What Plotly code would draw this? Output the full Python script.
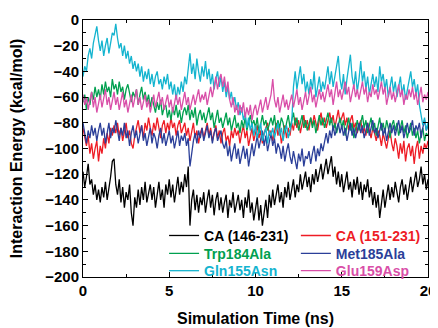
import plotly.graph_objects as go

time_ns = [round(i * 0.1, 1) for i in range(201)]

ca_146_231 = [
    -118, -130, -122, -112, -128, -124, -136, -128, -140, -132,
    -142, -130, -138, -126, -140, -132, -122, -110, -108, -128,
    -136, -124, -142, -130, -146, -134, -140, -128, -150, -160,
    -138, -146, -132, -144, -130, -140, -126, -142, -134, -128,
    -140, -130, -146, -134, -126, -140, -132, -146, -128, -136,
    -124, -138, -128, -142, -130, -122, -136, -126, -134, -120,
    -130, -114, -160, -140, -132, -148, -136, -150, -138, -144,
    -134, -150, -140, -132, -146, -136, -152, -140, -134, -148,
    -138, -150, -142, -136, -154, -140, -146, -134, -150, -142,
    -136, -148, -140, -154, -138, -146, -132, -150, -142, -156,
    -146, -138, -156, -144, -160, -148, -140, -154, -136, -146,
    -132, -144, -136, -128, -142, -134, -146, -130, -138, -126,
    -140, -130, -124, -138, -128, -134, -120, -132, -126, -118,
    -130, -122, -134, -120, -128, -116, -126, -120, -112, -124,
    -116, -108, -120, -112, -106, -122, -114, -128, -118, -130,
    -120, -134, -124, -118, -132, -126, -138, -124, -132, -122,
    -136, -126, -140, -128, -134, -124, -138, -130, -144, -134,
    -146, -136, -154, -140, -132, -146, -136, -128, -140, -130,
    -138, -126, -134, -142, -130, -124, -136, -128, -140, -132,
    -122, -134, -126, -118, -130, -124, -114, -128, -120, -132,
    -124]

ca_151_231 = [
    -84, -92, -98, -90, -104, -96, -108, -100, -94, -110,
    -98, -104, -92, -100, -88, -96, -84, -90, -82, -88,
    -80, -90, -84, -94, -86, -80, -92, -86, -96, -100,
    -90, -84, -78, -88, -82, -92, -80, -86, -76, -84,
    -90, -80, -86, -76, -84, -92, -82, -78, -88, -80,
    -86, -76, -84, -80, -90, -82, -78, -88, -84, -80,
    -90, -84, -94, -86, -80, -92, -86, -96, -88, -84,
    -92, -86, -80, -90, -84, -94, -88, -82, -92, -86,
    -96, -88, -84, -94, -90, -98, -86, -92, -84, -90,
    -86, -96, -88, -82, -92, -86, -98, -90, -84, -94,
    -88, -82, -92, -86, -96, -88, -84, -80, -90, -86,
    -94, -86, -80, -90, -84, -96, -88, -82, -92, -84,
    -90, -80, -86, -76, -84, -78, -88, -80, -74, -84,
    -78, -86, -76, -82, -74, -80, -86, -78, -72, -82,
    -76, -84, -78, -72, -80, -74, -84, -78, -70, -80,
    -76, -72, -82, -76, -86, -78, -74, -84, -80, -88,
    -82, -78, -88, -84, -90, -80, -86, -92, -84, -88,
    -94, -86, -90, -98, -88, -94, -100, -92, -86, -96,
    -102, -92, -98, -108, -96, -104, -94, -110, -100, -96,
    -106, -98, -112, -100, -94, -108, -98, -104, -96, -100,
    -94]

trp184ala = [
    -64, -58, -70, -60, -66, -56, -62, -52, -60, -54,
    -62, -50, -58, -48, -56, -52, -60, -46, -54, -50,
    -58, -48, -56, -52, -62, -54, -50, -58, -64, -56,
    -60, -54, -66, -58, -52, -62, -56, -64, -58, -68,
    -60, -66, -72, -64, -70, -62, -74, -68, -66, -76,
    -70, -78, -68, -74, -66, -76, -70, -80, -72, -68,
    -74, -66, -78, -70, -76, -68, -82, -74, -70, -78,
    -72, -80, -74, -68, -78, -72, -84, -76, -70, -80,
    -76, -84, -78, -72, -82, -76, -86, -80, -74, -84,
    -80, -88, -78, -84, -76, -86, -80, -74, -82, -78,
    -84, -76, -88, -80, -74, -82, -78, -86, -80, -76,
    -82, -74, -86, -78, -84, -76, -80, -88, -80, -74,
    -84, -78, -72, -82, -76, -86, -80, -74, -84, -78,
    -86, -80, -76, -84, -78, -88, -80, -74, -82, -76,
    -84, -78, -72, -82, -76, -86, -80, -88, -82, -76,
    -84, -78, -90, -82, -76, -86, -80, -92, -84, -78,
    -86, -80, -74, -84, -78, -88, -82, -76, -86, -80,
    -90, -82, -76, -86, -80, -88, -78, -84, -92, -82,
    -78, -86, -80, -90, -84, -78, -88, -82, -92, -86,
    -80, -90, -84, -92, -86, -96, -88, -84, -94, -88,
    -90]

met185ala = [
    -80, -88, -96, -86, -92, -82, -90, -84, -94, -86,
    -80, -90, -84, -96, -86, -80, -92, -84, -88, -78,
    -86, -94, -84, -90, -80, -92, -86, -98, -88, -82,
    -92, -86, -96, -88, -82, -94, -88, -98, -90, -84,
    -96, -88, -92, -100, -90, -84, -96, -88, -98, -92,
    -86, -96, -90, -100, -92, -86, -98, -90, -94, -88,
    -98, -92, -114, -102, -94, -88, -96, -86, -92, -84,
    -94, -88, -82, -92, -86, -96, -88, -84, -94, -90,
    -86, -96, -100, -94, -106, -98, -110, -102, -96, -108,
    -100, -112, -104, -98, -108, -100, -114, -104, -96, -106,
    -98, -90, -100, -92, -86, -98, -90, -102, -94, -88,
    -98, -92, -104, -96, -100, -108, -98, -110, -102, -96,
    -106, -112, -102, -108, -116, -104, -110, -100, -114, -106,
    -108, -102, -112, -104, -98, -110, -100, -106, -96, -102,
    -94, -88, -96, -86, -92, -82, -90, -84, -80, -88,
    -82, -90, -84, -94, -86, -80, -90, -84, -92, -86,
    -80, -88, -82, -92, -86, -80, -90, -84, -78, -88,
    -84, -92, -86, -80, -90, -84, -94, -86, -80, -88,
    -82, -90, -84, -78, -88, -82, -92, -86, -80, -88,
    -84, -78, -90, -82, -86, -80, -92, -84, -78, -86,
    -82]

gln155asn = [
    -44, -36, -40, -28, -22, -30, -18, -12, -5, -16,
    -24, -16, -28, -20, -14, -26, -18, -10, -12, -3,
    -14, -22, -18, -28, -20, -30, -24, -34, -28, -38,
    -32, -40, -34, -44, -36, -48, -40, -46, -38, -50,
    -42, -52, -44, -40, -50, -46, -54, -44, -50, -42,
    -54, -48, -58, -50, -62, -52, -58, -48, -56, -44,
    -50, -36, -26, -42, -34, -46, -30, -40, -48, -36,
    -44, -32, -46, -38, -50, -42, -54, -46, -40, -52,
    -44, -56, -48, -60, -52, -62, -56, -66, -60, -70,
    -64, -74, -68, -78, -72, -84, -76, -86, -80, -90,
    -82, -92, -86, -80, -94, -88, -84, -96, -86, -90,
    -84, -92, -86, -80, -90, -84, -94, -86, -82, -92,
    -86, -80, -52, -40, -54, -46, -36, -50, -42, -56,
    -48, -58, -46, -54, -40, -60, -50, -44, -56, -48,
    -54, -44, -36, -50, -40, -52, -44, -34, -28, -46,
    -54, -42, -58, -46, -36, -27, -44, -52, -40, -56,
    -46, -32, -48, -40, -54, -44, -58, -48, -42, -52,
    -44, -56, -36, -48, -42, -54, -46, -60, -50, -44,
    -56, -48, -60, -52, -44, -58, -50, -62, -54, -46,
    -40, -52, -46, -58, -50, -66, -74, -82, -76, -86,
    -80]

glu159asp = [
    -58, -66, -60, -70, -62, -56, -68, -60, -72, -64,
    -58, -68, -62, -54, -66, -60, -70, -62, -56, -66,
    -60, -70, -64, -56, -68, -62, -72, -64, -58, -68,
    -62, -54, -66, -60, -70, -64, -58, -68, -62, -72,
    -64, -58, -68, -62, -56, -66, -60, -70, -64, -58,
    -68, -62, -72, -64, -58, -66, -60, -70, -62, -56,
    -66, -60, -70, -64, -58, -66, -60, -54, -64, -58,
    -62, -56, -66, -58, -52, -60, -50, -44, -54, -46,
    -42, -52, -44, -56, -48, -62, -68, -60, -72, -66,
    -74, -66, -72, -64, -76, -68, -74, -66, -78, -70,
    -66, -74, -68, -62, -72, -66, -60, -70, -64, -58,
    -46, -62, -68, -60, -72, -64, -58, -68, -62, -70,
    -64, -58, -68, -60, -54, -66, -60, -70, -62, -56,
    -66, -58, -52, -64, -58, -68, -60, -54, -62, -56,
    -64, -56, -50, -60, -54, -66, -58, -48, -60, -54,
    -62, -56, -48, -58, -52, -64, -56, -50, -60, -54,
    -62, -54, -48, -58, -52, -64, -56, -60, -50, -58,
    -54, -62, -56, -48, -58, -52, -66, -58, -52, -62,
    -56, -64, -58, -50, -60, -54, -66, -58, -62, -54,
    -60, -52, -62, -56, -66, -58, -52, -64, -58, -62,
    -56]

series_names = ["CA (146-231)", "CA (151-231)", "Trp184Ala", "Met185Ala", "Gln155Asn", "Glu159Asp"]
series_values = [ca_146_231, ca_151_231, trp184ala, met185ala, gln155asn, glu159asp]
series_colors = ["#000000", "#ee1c25", "#00a04f", "#2b3f99", "#14b4cf", "#d94fa8"]

# legend slots: (column x in paper units, row y in paper units)
legend_cols = [0.235, 0.617]
legend_rows = [0.160, 0.090, 0.023]

fig = go.Figure()
legend_ids = ["legend", "legend2", "legend3", "legend4", "legend5", "legend6"]
for i, (name, vals, col) in enumerate(zip(series_names, series_values, series_colors)):
    fig.add_trace(go.Scatter(
        x=time_ns, y=vals, mode="lines",
        line=dict(color=col, width=1.3),
        name=f'<span style="color:{col}">{name}</span>',
        legend=legend_ids[i],
    ))

fam = "Liberation Sans, Arial, sans-serif"
tick_font = dict(family=fam, size=15, color="black", weight="bold")
title_font = dict(family=fam, size=16, color="black", weight="bold")
legend_font = dict(family=fam, size=14, color="black", weight="bold")

axis_common = dict(
    showline=True, linecolor="black", linewidth=1, mirror="ticks",
    ticks="inside", ticklen=5, tickcolor="black", tickwidth=1,
    showgrid=False, zeroline=False, tickfont=tick_font, automargin=False,
)

legends = {}
for i, lid in enumerate(legend_ids):
    legends[lid] = dict(
        x=legend_cols[i % 2], y=legend_rows[i // 2],
        xanchor="left", yanchor="middle", bgcolor="rgba(0,0,0,0)",
        font=legend_font, itemwidth=30, borderwidth=0,
    )

# page body has an 8px margin, so the figure is offset by 8px
fig.update_layout(
    width=430, height=320,
    margin=dict(l=75, r=10, t=12, b=51),
    paper_bgcolor="white", plot_bgcolor="white",
    font=title_font,
    showlegend=True,
    xaxis=dict(range=[0, 20], dtick=5, tick0=0,
               minor=dict(dtick=2.5, ticks="inside", ticklen=3, tickcolor="black"),
               title=dict(text="Simulation Time (ns)", font=title_font, standoff=14),
               **axis_common),
    yaxis=dict(range=[-200, 0], dtick=20, tick0=0,
               minor=dict(dtick=10, ticks="inside", ticklen=3, tickcolor="black"),
               title=dict(text="Interaction Energy (kcal/mol)", font=title_font, standoff=21),
               **axis_common),
    **legends,
)

fig.write_html("out.html")
